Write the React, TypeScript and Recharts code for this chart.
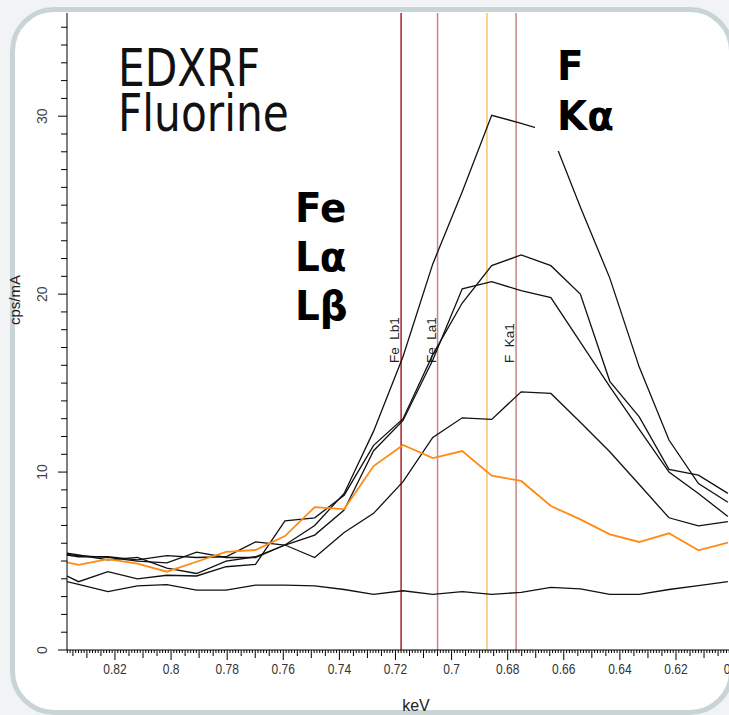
import { LineChart, Line, XAxis, YAxis, ReferenceLine } from 'recharts'

// channel energies (keV), high to low
const energy = [
  0.8436, 0.833, 0.8225, 0.812, 0.8015, 0.7909, 0.7804, 0.7699, 0.7594, 0.7488, 0.7383, 0.7278,
  0.7173, 0.7067, 0.6962, 0.6857, 0.6752, 0.6646, 0.6541, 0.6436, 0.6331, 0.6225, 0.612, 0.6015,
]

// count rates (cps/mA) per sample
const sample1 = [5.5, 5.3, 5.2, 5.0, 4.9, 5.5, 5.2, 5.2, 5.9, 7.0, 8.8, 12.3, 16.5, 21.7, 25.75, 30.05, 29.6, 29.1, 24.9, 20.9, 15.9, 11.8, 9.35, 8.3]
const sample2 = [4.66, 3.84, 4.4, 4.0, 4.2, 4.16, 4.68, 4.81, 7.26, 7.43, 8.7, 11.5, 13.0, 16.6, 19.5, 21.6, 22.2, 21.6, 20.0, 15.1, 13.1, 10.15, 9.83, 8.8]
const sample3 = [5.6, 5.34, 5.06, 5.2, 4.6, 4.3, 5.0, 5.24, 5.9, 6.46, 7.87, 11.2, 12.9, 16.3, 20.3, 20.7, 20.2, 19.8, 17.3, 14.8, 12.4, 10.0, 8.8, 7.5]
const sample4 = [5.5, 5.24, 5.24, 5.06, 5.3, 5.2, 5.24, 6.08, 5.9, 5.2, 6.6, 7.68, 9.46, 11.95, 13.05, 12.96, 14.51, 14.42, 12.8, 11.14, 9.3, 7.43, 6.98, 7.21]
const sample5 = [5.16, 4.78, 5.11, 4.86, 4.4, 4.96, 5.52, 5.62, 6.4, 8.03, 7.92, 10.34, 11.52, 10.79, 11.18, 9.8, 9.5, 8.09, 7.34, 6.5, 6.07, 6.56, 5.6, 6.03]
const blank = [4.08, 3.69, 3.28, 3.6, 3.67, 3.37, 3.37, 3.65, 3.65, 3.6, 3.4, 3.13, 3.33, 3.13, 3.28, 3.13, 3.24, 3.52, 3.43, 3.13, 3.13, 3.4, 3.62, 3.84]

// emission lines (keV)
const lines = [
  { name: 'Fe  Lb1', keV: 0.718, color: '#a8222a' },
  { name: 'Fe  La1', keV: 0.705, color: '#c98484' },
  { name: '', keV: 0.6874, color: '#f7c46c' },
  { name: 'F  Ka1', keV: 0.677, color: '#c98484' },
]

const rows = energy.map((e, i) => ({
  keV: e,
  s1: sample1[i],
  s2: sample2[i],
  s3: sample3[i],
  s4: sample4[i],
  s5: sample5[i],
  s0: blank[i],
}))

const xTicks: number[] = []
for (let m = 596; m <= 837; m++) xTicks.push(m / 1000)
const yTicks: number[] = []
for (let v = 0; v <= 35; v++) yTicks.push(v)

const sans = '"Liberation Sans", Arial, sans-serif'

function XTick(props: any) {
  const { x, y, payload } = props
  const m = Math.round(payload.value * 1000)
  const len = m % 20 === 0 ? 10 : m % 10 === 0 ? 8 : m % 5 === 0 ? 6 : 3
  return (
    <g>
      <line x1={x} y1={y} x2={x} y2={y + len} stroke="#000" strokeWidth={1} />
      {m % 20 === 0 && (
        <text
          transform={`translate(${x},${y + 24}) scale(0.86,1)`}
          textAnchor="middle"
          fontSize={14}
          fill="#333"
          fontFamily={sans}
        >
          {String(Number((m / 1000).toFixed(2)))}
        </text>
      )}
    </g>
  )
}

function YTick(props: any) {
  const { x, y, payload } = props
  const v = payload.value
  const major = v % 10 === 0
  return (
    <g>
      <line x1={x - (major ? 9 : 6)} y1={y} x2={x} y2={y} stroke="#000" strokeWidth={1} />
      {major && (
        <text
          transform={`translate(${x - 20},${y}) rotate(-90)`}
          textAnchor="middle"
          fontSize={14}
          fill="#444"
          fontFamily={sans}
        >
          {v}
        </text>
      )}
    </g>
  )
}

const lineLabel = (text: string) => (props: any) => {
  if (!text) return null
  const x = props.viewBox ? props.viewBox.x : 0
  return (
    <text
      transform={`translate(${x - 2},363) rotate(-90)`}
      fontSize={13.5}
      fill="#222"
      fontFamily={sans}
      style={{ whiteSpace: 'pre' }}
    >
      {text}
    </text>
  )
}

export default function App() {
  return (
    <div
      style={{
        position: 'absolute',
        left: 0,
        top: 0,
        width: 729,
        height: 715,
        overflow: 'hidden',
        background: '#f1f3f5',
      }}
    >
      <div
        style={{
          position: 'absolute',
          left: 10,
          top: 7,
          width: 724,
          height: 708,
          boxSizing: 'border-box',
          border: '5px solid #c9d4d7',
          borderRadius: 44,
          background: '#fff',
        }}
      />
      <div style={{ position: 'absolute', left: 0, top: 0 }}>
        <LineChart width={760} height={715} data={rows} margin={{ top: 13, right: 15, bottom: 15, left: 7 }}>
          <XAxis
            dataKey="keV"
            type="number"
            domain={[0.5954, 0.8371]}
            reversed
            allowDataOverflow
            ticks={xTicks}
            interval={0}
            tickLine={false}
            tickSize={0}
            tickMargin={0}
            tick={<XTick />}
            axisLine={{ stroke: '#000' }}
            height={50}
          />
          <YAxis
            type="number"
            domain={[0, 35.8]}
            allowDataOverflow
            ticks={yTicks}
            interval={0}
            tickLine={false}
            tickSize={0}
            tickMargin={0}
            tick={<YTick />}
            axisLine={{ stroke: '#000' }}
            width={60}
          />
          {lines.map((l) => (
            <ReferenceLine
              key={l.keV}
              x={l.keV}
              stroke={l.color}
              strokeWidth={1.5}
              label={lineLabel(l.name)}
            />
          ))}
          <Line dataKey="s0" type="linear" stroke="#111" strokeWidth={1.3} dot={false} isAnimationActive={false} />
          <Line dataKey="s4" type="linear" stroke="#111" strokeWidth={1.3} dot={false} isAnimationActive={false} />
          <Line dataKey="s3" type="linear" stroke="#111" strokeWidth={1.3} dot={false} isAnimationActive={false} />
          <Line dataKey="s2" type="linear" stroke="#111" strokeWidth={1.3} dot={false} isAnimationActive={false} />
          <Line dataKey="s1" type="linear" stroke="#111" strokeWidth={1.3} dot={false} isAnimationActive={false} />
          <Line dataKey="s5" type="linear" stroke="#ff8a14" strokeWidth={1.8} dot={false} isAnimationActive={false} />
        </LineChart>
      </div>
      <svg width={729} height={715} style={{ position: 'absolute', left: 0, top: 0, pointerEvents: 'none' }}>
        <g fontSize={51} fontFamily="DejaVu Sans, sans-serif" fill="#111">
          <text transform="translate(118,86) scale(0.83,1)">EDXRF</text>
          <text transform="translate(118,131) scale(0.83,1)">Fluorine</text>
        </g>

        <g fontFamily="DejaVu Sans, sans-serif" fontWeight="bold" fontSize={41} fill="#000">
          <text transform="translate(295,222) scale(0.95,1)">Fe</text>
          <text transform="translate(295,271) scale(0.95,1)">Lα</text>
          <text transform="translate(295,320) scale(0.95,1)">Lβ</text>
        </g>

        <rect x={535} y={88} width={90} height={63} fill="#fff" />
        <g fontFamily="DejaVu Sans, sans-serif" fontWeight="bold" fontSize={41} fill="#000">
          <text transform="translate(557,80) scale(0.95,1)">F</text>
          <text transform="translate(557,130) scale(0.95,1)">Kα</text>
        </g>

        <text transform="translate(20,300) rotate(-90)" textAnchor="middle" fontSize={15} fill="#222" fontFamily={sans}>
          cps/mA
        </text>
        <text x={416} y={711} textAnchor="middle" fontSize={16} fill="#222" fontFamily={sans}>
          keV
        </text>
      </svg>
    </div>
  )
}
